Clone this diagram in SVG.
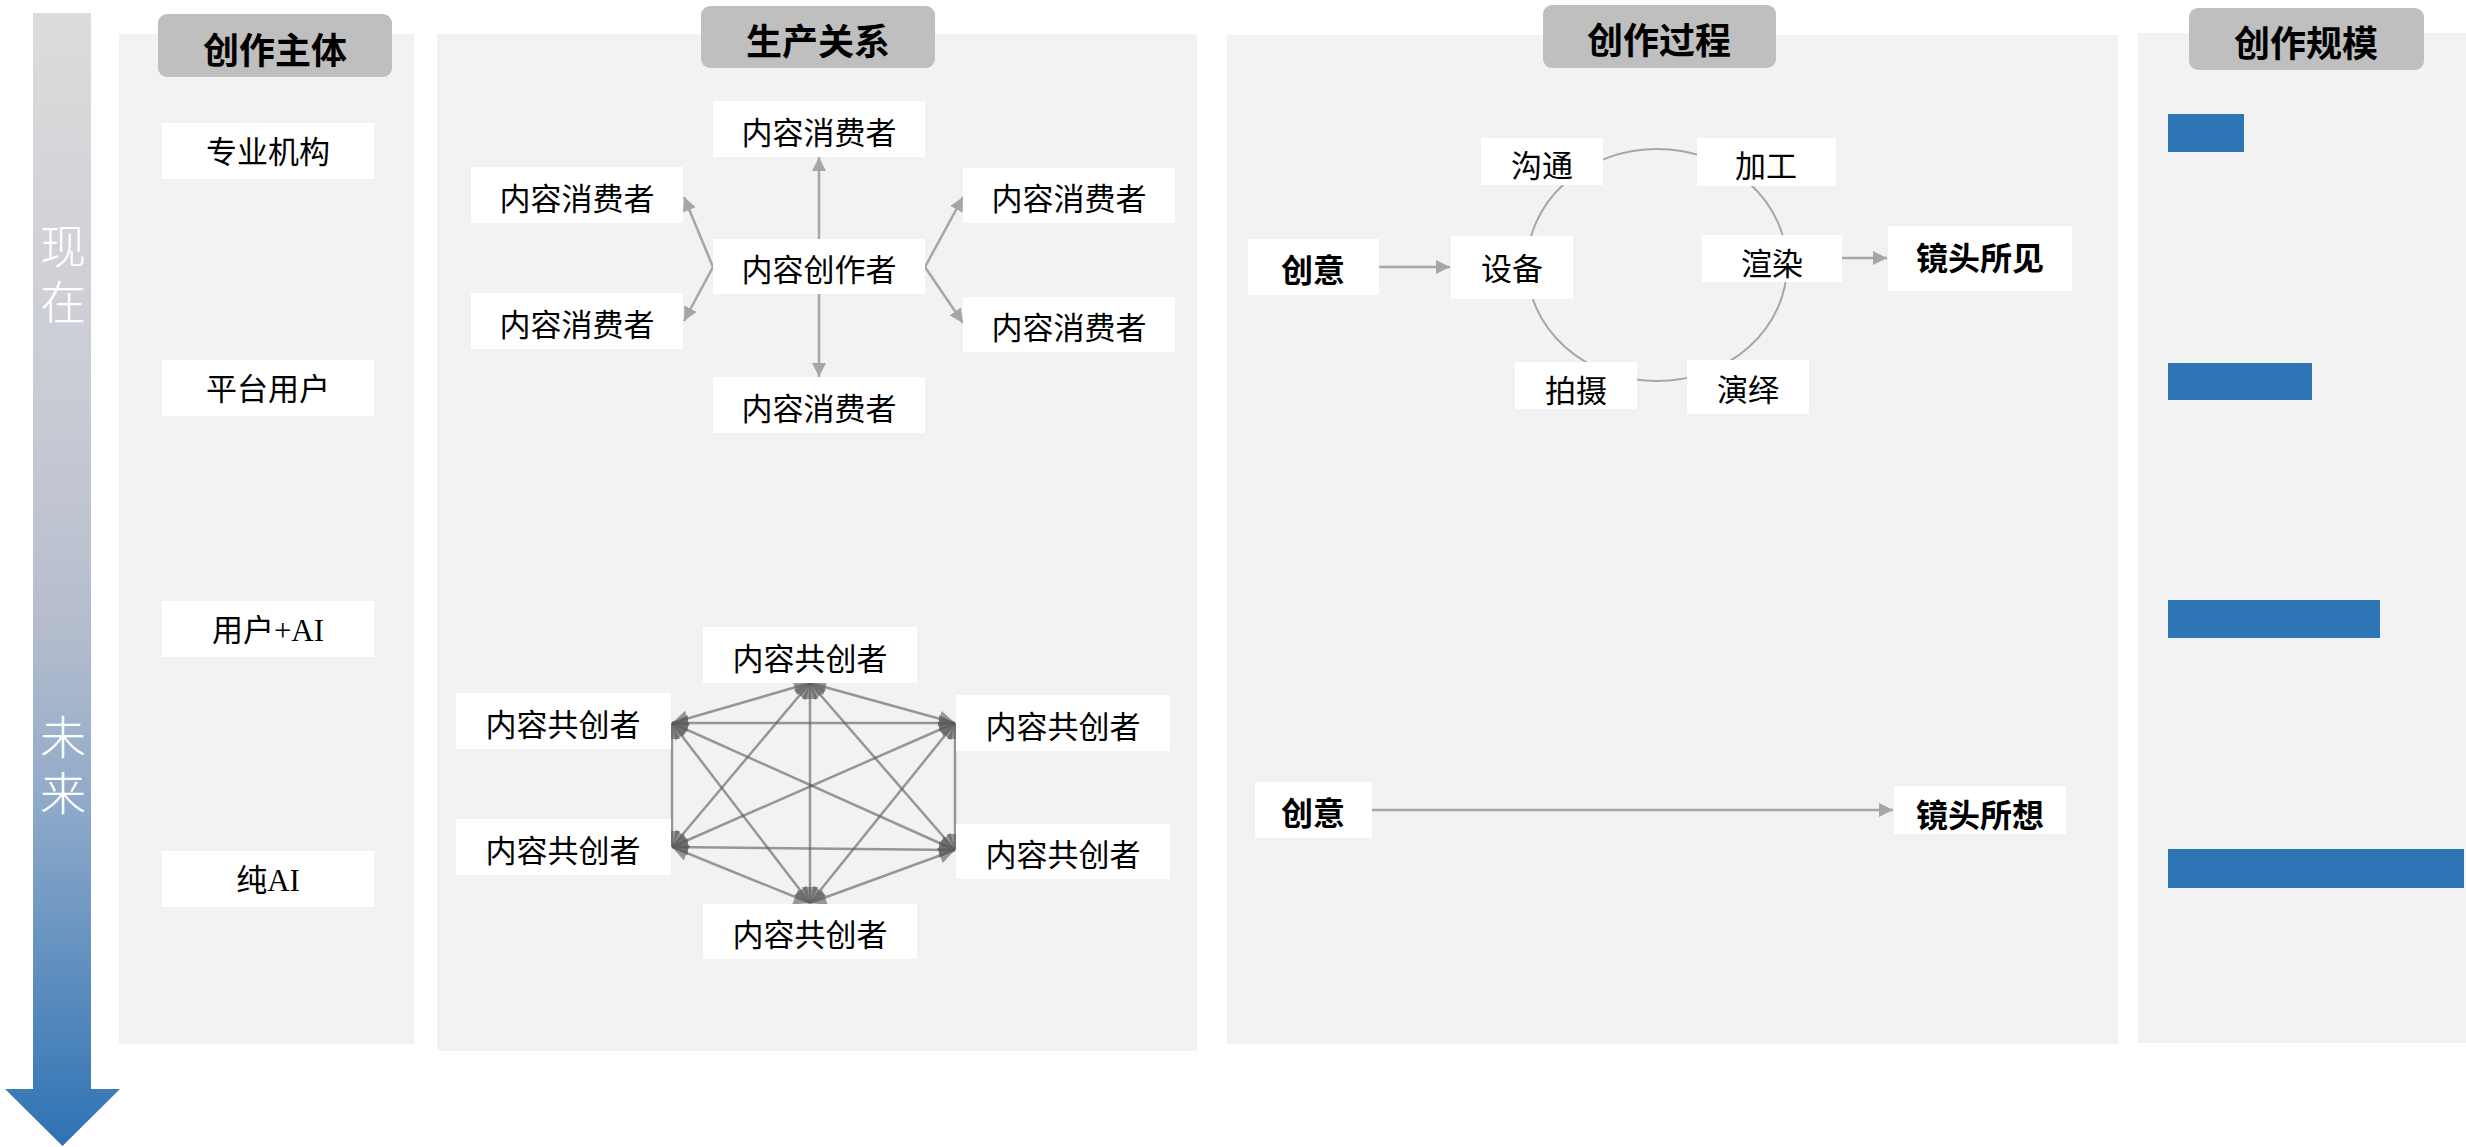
<svg xmlns="http://www.w3.org/2000/svg" width="2466" height="1147" viewBox="0 0 2466 1147">
<style>
.panel{fill:#f2f2f2}
.hdr{fill:#bfbfbf}
.hdrt{font-family:"Noto Sans CJK SC","Noto Sans",sans-serif;font-weight:700;font-size:36px;fill:#000;text-anchor:middle;dominant-baseline:central}
.box{fill:#ffffff}
.t{font-family:"Noto Sans CJK SC","Noto Sans",sans-serif;font-size:31px;fill:#000;text-anchor:middle;dominant-baseline:central}
.ts{font-family:"Liberation Serif","Noto Sans CJK SC",serif;font-size:31px;fill:#000;text-anchor:middle;dominant-baseline:central}
.tb{font-family:"Noto Sans CJK SC","Noto Sans",sans-serif;font-weight:700;font-size:32px;fill:#000;text-anchor:middle;dominant-baseline:central}
.time{font-family:"Noto Sans CJK SC","Noto Sans",sans-serif;font-weight:300;font-size:46px;fill:#fff;writing-mode:vertical-rl;letter-spacing:10px}
.bar{fill:#2e75b6}
.c1{stroke:#a6a6a6;stroke-width:2.5;fill:none;marker-end:url(#ag)}
.c2{stroke:#595959;stroke-opacity:0.6;stroke-width:2.5;fill:none;marker-start:url(#ak);marker-end:url(#ak)}
</style>
<defs>
<linearGradient id="tg" x1="0" y1="13" x2="0" y2="1146" gradientUnits="userSpaceOnUse">
<stop offset="0" stop-color="#dcdcdc"/>
<stop offset="0.35" stop-color="#c9cbd4"/>
<stop offset="0.55" stop-color="#b3bccd"/>
<stop offset="0.7" stop-color="#8eaac9"/>
<stop offset="1" stop-color="#2e72b4"/>
</linearGradient>
<marker id="ag" viewBox="0 0 10 10" refX="10" refY="5" markerWidth="14" markerHeight="15" markerUnits="userSpaceOnUse" orient="auto-start-reverse">
<path d="M0,0 L10,5 L0,10 z" fill="#a6a6a6"/>
</marker>
<marker id="ak" viewBox="0 0 10 10" refX="10" refY="5" markerWidth="18" markerHeight="16" markerUnits="userSpaceOnUse" orient="auto-start-reverse">
<path d="M0,0 L10,5 L0,10 z" fill="#595959" fill-opacity="0.6"/>
</marker>
</defs>

<g id="timeline">
<polygon points="33,13 91,13 91,1089 120,1089 62.5,1146 5,1089 33,1089" fill="url(#tg)"/>
<text class="time" x="63" y="223">现在</text>
<text class="time" x="63" y="714">未来</text>
</g>

<g id="panels">
<rect class="panel" x="119" y="34" width="295" height="1010"/>
<rect class="panel" x="437" y="34" width="760" height="1017"/>
<rect class="panel" x="1227" y="35" width="891" height="1009"/>
<rect class="panel" x="2138" y="33" width="328" height="1010"/>
</g>

<g id="header-subject"><rect class="hdr" x="158" y="14" width="234" height="63" rx="9"/><text class="hdrt" x="275" y="48">创作主体</text></g>
<g id="header-relation"><rect class="hdr" x="701" y="6" width="234" height="62" rx="9"/><text class="hdrt" x="818" y="39">生产关系</text></g>
<g id="header-process"><rect class="hdr" x="1543" y="5" width="233" height="63" rx="9"/><text class="hdrt" x="1659" y="38">创作过程</text></g>
<g id="header-scale"><rect class="hdr" x="2189" y="8" width="235" height="62" rx="9"/><text class="hdrt" x="2306" y="41">创作规模</text></g>

<g id="subj-pro"><rect class="box" x="162" y="123" width="212" height="56"/><text class="ts" x="268" y="152">专业机构</text></g>
<g id="subj-platform"><rect class="box" x="162" y="360" width="212" height="56"/><text class="ts" x="268" y="389">平台用户</text></g>
<g id="subj-userai"><rect class="box" x="162" y="601" width="212" height="56"/><text class="ts" x="268" y="630">用户+AI</text></g>
<g id="subj-ai"><rect class="box" x="162" y="851" width="212" height="56"/><text class="ts" x="268" y="880">纯AI</text></g>

<g id="connectors">
<line class="c1" x1="819" y1="239" x2="819" y2="157"/>
<line class="c1" x1="819" y1="294" x2="819" y2="377"/>
<line class="c1" x1="713" y1="267" x2="684" y2="197"/>
<line class="c1" x1="713" y1="267" x2="684" y2="321"/>
<line class="c1" x1="925" y1="267" x2="963" y2="197"/>
<line class="c1" x1="925" y1="267" x2="963" y2="323"/>

<line class="c2" x1="810" y1="683" x2="672" y2="723"/>
<line class="c2" x1="810" y1="683" x2="955" y2="723"/>
<line class="c2" x1="810" y1="683" x2="672" y2="847"/>
<line class="c2" x1="810" y1="683" x2="955" y2="850"/>
<line class="c2" x1="810" y1="683" x2="810" y2="903"/>
<line class="c2" x1="672" y1="723" x2="955" y2="723"/>
<line class="c2" x1="672" y1="723" x2="672" y2="847"/>
<line class="c2" x1="672" y1="723" x2="955" y2="850"/>
<line class="c2" x1="672" y1="723" x2="810" y2="903"/>
<line class="c2" x1="955" y1="723" x2="672" y2="847"/>
<line class="c2" x1="955" y1="723" x2="955" y2="850"/>
<line class="c2" x1="955" y1="723" x2="810" y2="903"/>
<line class="c2" x1="672" y1="847" x2="955" y2="850"/>
<line class="c2" x1="672" y1="847" x2="810" y2="903"/>
<line class="c2" x1="955" y1="850" x2="810" y2="903"/>

<ellipse cx="1657" cy="265" rx="130" ry="116" fill="none" stroke="#a6a6a6" stroke-width="2"/>
<line class="c1" x1="1379" y1="267" x2="1450" y2="267"/>
<line class="c1" x1="1842" y1="258" x2="1887" y2="258"/>
<line class="c1" x1="1372" y1="810" x2="1893" y2="810"/>
</g>

<g id="rel-consumer-top"><rect class="box" x="713" y="101" width="212" height="56"/><text class="t" x="819" y="130">内容消费者</text></g>
<g id="rel-creator"><rect class="box" x="713" y="239" width="212" height="55"/><text class="t" x="819" y="267">内容创作者</text></g>
<g id="rel-consumer-bottom"><rect class="box" x="713" y="377" width="212" height="56"/><text class="t" x="819" y="406">内容消费者</text></g>
<g id="rel-consumer-lt"><rect class="box" x="471" y="167" width="212" height="56"/><text class="t" x="577" y="196">内容消费者</text></g>
<g id="rel-consumer-lb"><rect class="box" x="471" y="293" width="212" height="56"/><text class="t" x="577" y="322">内容消费者</text></g>
<g id="rel-consumer-rt"><rect class="box" x="963" y="168" width="212" height="55"/><text class="t" x="1069" y="196">内容消费者</text></g>
<g id="rel-consumer-rb"><rect class="box" x="963" y="297" width="212" height="55"/><text class="t" x="1069" y="325">内容消费者</text></g>

<g id="co-top"><rect class="box" x="703" y="627" width="214" height="56"/><text class="t" x="810" y="656">内容共创者</text></g>
<g id="co-lt"><rect class="box" x="456" y="693" width="215" height="56"/><text class="t" x="563" y="722">内容共创者</text></g>
<g id="co-rt"><rect class="box" x="956" y="695" width="214" height="56"/><text class="t" x="1063" y="724">内容共创者</text></g>
<g id="co-lb"><rect class="box" x="456" y="819" width="215" height="56"/><text class="t" x="563" y="848">内容共创者</text></g>
<g id="co-rb"><rect class="box" x="956" y="824" width="214" height="55"/><text class="t" x="1063" y="852">内容共创者</text></g>
<g id="co-bottom"><rect class="box" x="703" y="904" width="214" height="55"/><text class="t" x="810" y="932">内容共创者</text></g>

<g id="proc-idea"><rect class="box" x="1248" y="239" width="131" height="56"/><text class="tb" x="1313" y="268">创意</text></g>
<g id="proc-device"><rect class="box" x="1451" y="236" width="122" height="63"/><text class="t" x="1512" y="266">设备</text></g>
<g id="proc-comm"><rect class="box" x="1481" y="138" width="122" height="47"/><text class="t" x="1542" y="163">沟通</text></g>
<g id="proc-process"><rect class="box" x="1697" y="138" width="139" height="48"/><text class="t" x="1766" y="163">加工</text></g>
<g id="proc-render"><rect class="box" x="1702" y="235" width="140" height="47"/><text class="t" x="1772" y="261">渲染</text></g>
<g id="proc-shoot"><rect class="box" x="1515" y="362" width="122" height="47"/><text class="t" x="1576" y="388">拍摄</text></g>
<g id="proc-act"><rect class="box" x="1687" y="360" width="122" height="54"/><text class="t" x="1748" y="387">演绎</text></g>
<g id="proc-seen"><rect class="box" x="1888" y="226" width="184" height="65"/><text class="tb" x="1980" y="256">镜头所见</text></g>
<g id="proc-idea2"><rect class="box" x="1255" y="782" width="117" height="56"/><text class="tb" x="1313" y="811">创意</text></g>
<g id="proc-imagined"><rect class="box" x="1894" y="786" width="172" height="48"/><text class="tb" x="1980" y="813">镜头所想</text></g>

<g id="scale-bars">
<rect class="bar" x="2168" y="114" width="76" height="38"/>
<rect class="bar" x="2168" y="363" width="144" height="37"/>
<rect class="bar" x="2168" y="600" width="212" height="38"/>
<rect class="bar" x="2168" y="849" width="296" height="39"/>
</g>
</svg>
